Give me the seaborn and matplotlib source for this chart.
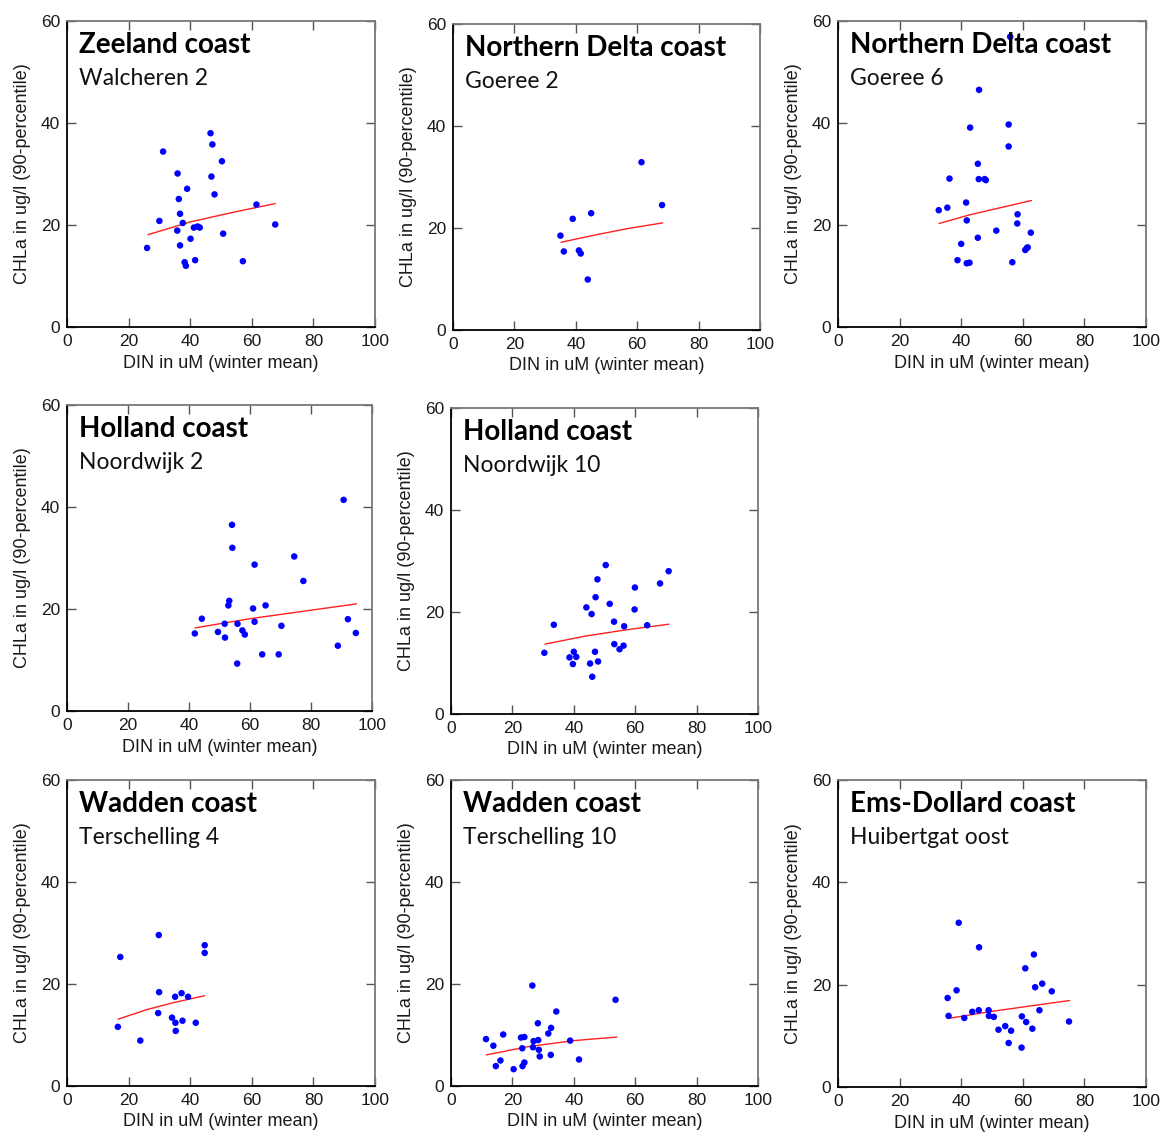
import matplotlib
matplotlib.use("Agg")
import matplotlib.pyplot as plt
import seaborn as sns
import pandas as pd

sns.set_style("ticks")
plt.rcParams["font.family"] = ["Liberation Sans", "DejaVu Sans"]

# ---- station data: DIN (winter mean, uM) vs CHLa (90-percentile, ug/l) ----
walcheren2_din = [26.0, 30.0, 31.2, 35.8, 35.9, 36.3, 36.7, 36.7, 37.6, 39.0, 38.2, 38.6, 40.1,
                  41.2, 41.6, 42.4, 43.1, 46.6, 47.2, 46.9, 47.9, 50.3, 50.7, 57.1, 61.5, 67.6]
walcheren2_chl = [15.5, 20.8, 34.4, 18.9, 30.1, 25.1, 22.2, 16.0, 20.4, 27.1, 12.7, 12.0, 17.3,
                  19.5, 13.1, 19.7, 19.5, 38.0, 35.8, 29.5, 26.0, 32.5, 18.3, 12.9, 24.0, 20.1]
walcheren2_fit_din = [26.3, 40.0, 54.0, 67.6]
walcheren2_fit_chl = [18.1, 20.6, 22.5, 24.2]

goeree2_din = [35.0, 36.1, 39.0, 41.0, 41.6, 43.9, 45.0, 61.4, 68.1]
goeree2_chl = [18.5, 15.4, 21.8, 15.6, 15.0, 9.9, 22.9, 32.9, 24.5]
goeree2_fit_din = [35.2, 46.0, 57.0, 68.3]
goeree2_fit_chl = [17.2, 18.6, 19.9, 21.0]

goeree6_din = [32.7, 35.5, 36.2, 38.8, 40.0, 41.6, 41.8, 41.8, 42.7, 42.9, 45.4, 45.4, 45.7, 45.8,
               47.6, 48.0, 51.4, 55.4, 55.4, 55.9, 56.6, 58.3, 58.2, 60.8, 61.3, 61.6, 62.6]
goeree6_chl = [22.9, 23.4, 29.1, 13.1, 16.3, 24.4, 20.9, 12.5, 12.6, 39.1, 32.0, 17.5, 29.0, 46.5,
               29.0, 28.8, 18.9, 39.7, 35.4, 56.9, 12.7, 22.1, 20.3, 15.1, 15.5, 15.6, 18.5]
goeree6_fit_din = [32.8, 42.8, 52.8, 62.8]
goeree6_fit_chl = [20.3, 22.0, 23.4, 24.8]

noordwijk2_din = [41.9, 44.2, 49.5, 51.7, 51.8, 52.9, 53.2, 54.1, 54.2, 55.8, 55.9, 57.5, 58.3,
                  61.0, 61.5, 61.5, 64.0, 65.1, 69.4, 70.3, 74.5, 77.5, 88.8, 90.7, 92.1, 94.7]
noordwijk2_chl = [15.2, 18.1, 15.5, 17.1, 14.4, 20.7, 21.6, 36.5, 32.0, 9.3, 17.1, 15.8, 15.0,
                  20.1, 28.7, 17.5, 11.1, 20.7, 11.1, 16.7, 30.3, 25.5, 12.8, 41.4, 18.0, 15.3]
noordwijk2_fit_din = [42.0, 60.0, 78.0, 94.9]
noordwijk2_fit_chl = [16.3, 18.1, 19.6, 21.0]

noordwijk10_din = [30.4, 33.5, 38.6, 39.7, 40.0, 40.8, 44.1, 45.3, 45.8, 46.0, 46.9, 47.1, 47.7,
                   47.9, 50.4, 51.7, 53.1, 53.2, 54.9, 56.2, 56.4, 59.9, 59.8, 63.9, 68.1, 70.9]
noordwijk10_chl = [12.0, 17.5, 11.1, 9.8, 12.2, 11.2, 20.9, 9.9, 19.6, 7.3, 12.2, 22.9, 26.4,
                   10.3, 29.2, 21.6, 18.1, 13.7, 12.7, 13.4, 17.2, 24.8, 20.5, 17.4, 25.6, 28.0]
noordwijk10_fit_din = [30.6, 44.0, 57.0, 70.9]
noordwijk10_fit_chl = [13.7, 15.3, 16.5, 17.6]

terschelling4_din = [16.5, 17.3, 23.8, 29.6, 29.8, 29.9, 34.1, 35.1, 35.2, 35.3, 37.2, 37.5,
                     39.3, 41.8, 44.7, 44.7]
terschelling4_chl = [11.6, 25.3, 8.9, 14.3, 29.6, 18.4, 13.4, 17.5, 12.4, 10.8, 18.2, 12.8,
                     17.5, 12.4, 27.6, 26.1]
terschelling4_fit_din = [16.6, 26.0, 35.0, 44.7]
terschelling4_fit_chl = [13.1, 15.0, 16.4, 17.7]

terschelling10_din = [11.4, 13.8, 14.6, 16.1, 17.0, 20.4, 22.8, 23.2, 23.3, 23.9, 23.9, 26.5, 26.7,
                      26.9, 28.3, 28.4, 28.6, 28.9, 31.7, 32.6, 32.5, 34.3, 38.8, 41.7, 53.6]
terschelling10_chl = [9.2, 7.9, 3.9, 5.0, 10.1, 3.3, 9.5, 7.4, 3.9, 9.6, 4.6, 19.7, 7.6,
                      8.8, 12.3, 9.0, 7.1, 5.8, 10.3, 11.4, 6.1, 14.6, 8.9, 5.2, 16.9]
terschelling10_fit_din = [11.5, 25.0, 40.0, 54.0]
terschelling10_fit_chl = [6.1, 7.7, 8.9, 9.6]

huibertgat_din = [35.6, 35.9, 38.5, 39.2, 41.0, 43.6, 45.7, 45.8, 48.9, 49.0, 50.6, 52.1, 54.3,
                  55.4, 56.2, 59.7, 59.6, 60.8, 61.1, 63.1, 63.6, 64.0, 65.4, 66.3, 69.4, 75.0]
huibertgat_chl = [17.4, 13.9, 18.9, 32.1, 13.5, 14.7, 15.0, 27.3, 15.0, 13.9, 13.7, 11.2, 11.9,
                  8.6, 11.0, 13.8, 7.7, 23.2, 12.7, 11.4, 25.9, 19.5, 15.0, 20.2, 18.7, 12.8]
huibertgat_fit_din = [35.9, 49.0, 62.0, 75.2]
huibertgat_fit_chl = [13.4, 14.7, 15.8, 16.9]

regions = ["Zeeland coast", "Northern Delta coast", "Northern Delta coast", "Holland coast",
           "Holland coast", "Wadden coast", "Wadden coast", "Ems-Dollard coast"]
stations = ["Walcheren 2", "Goeree 2", "Goeree 6", "Noordwijk 2", "Noordwijk 10",
            "Terschelling 4", "Terschelling 10", "Huibertgat oost"]

x_ticks = [0, 20, 40, 60, 80, 100]
y_ticks = [0, 20, 40, 60]
x_label = "DIN in uM (winter mean)"
y_label = "CHLa in ug/l (90-percentile)"

series = [
    (walcheren2_din, walcheren2_chl, walcheren2_fit_din, walcheren2_fit_chl),
    (goeree2_din, goeree2_chl, goeree2_fit_din, goeree2_fit_chl),
    (goeree6_din, goeree6_chl, goeree6_fit_din, goeree6_fit_chl),
    (noordwijk2_din, noordwijk2_chl, noordwijk2_fit_din, noordwijk2_fit_chl),
    (noordwijk10_din, noordwijk10_chl, noordwijk10_fit_din, noordwijk10_fit_chl),
    (terschelling4_din, terschelling4_chl, terschelling4_fit_din, terschelling4_fit_chl),
    (terschelling10_din, terschelling10_chl, terschelling10_fit_din, terschelling10_fit_chl),
    (huibertgat_din, huibertgat_chl, huibertgat_fit_din, huibertgat_fit_chl),
]

# ---- layout (pixel boxes: left, top, right, bottom) ----
W, H = 1174, 1133
boxes = [(67, 21, 375, 327), (453, 24, 760, 330), (838, 21, 1146, 327),
         (67, 405, 372, 711), (451, 408, 758, 714),
         (67, 780, 375, 1086), (451, 780, 758, 1086), (838, 780, 1146, 1087)]

fig = plt.figure(figsize=(W / 100, H / 100), dpi=100)
fig.patch.set_facecolor("white")

text_color = "#1a1a1a"
for (l, t, r, b), (din, chl, fdin, fchl), region, station in zip(boxes, series, regions, stations):
    ax = fig.add_axes([l / W, 1 - b / H, (r - l) / W, (b - t) / H])
    df = pd.DataFrame({"din": din, "chl": chl})
    fit = pd.DataFrame({"din": fdin, "chl": fchl})
    sns.lineplot(data=fit, x="din", y="chl", ax=ax, color="#ff2020", lw=1.0,
                 estimator=None, sort=True, zorder=2)
    sns.scatterplot(data=df, x="din", y="chl", ax=ax, color="#0000ff", s=22,
                    edgecolor="none", linewidth=0, zorder=3)

    ax.set_xlim(0, 100)
    ax.set_ylim(0, 60)
    ax.set_xticks(x_ticks)
    ax.set_yticks(y_ticks)
    ax.tick_params(direction="in", length=6.5, width=1.0, color="#555555",
                   labelsize=12.5, labelcolor=text_color, pad=5,
                   top=True, right=True)
    ax.set_xlabel(x_label, fontsize=13, color=text_color, labelpad=4)
    ax.set_ylabel(y_label, fontsize=13, color=text_color, labelpad=7)
    for side in ["left", "bottom"]:
        ax.spines[side].set_color("#000000")
        ax.spines[side].set_linewidth(1.3)
    for side in ["top", "right"]:
        ax.spines[side].set_color("#777777")
        ax.spines[side].set_linewidth(1.3)

    ax.text(0.04, 0.895, region, transform=ax.transAxes, fontsize=20,
            fontweight="bold", family=["Lato", "DejaVu Sans"], color="black")
    ax.text(0.04, 0.79, station, transform=ax.transAxes, fontsize=16.5,
            family=["Lato", "DejaVu Sans"], color="#111111")

fig.savefig("out.png", dpi=100, facecolor="white")
